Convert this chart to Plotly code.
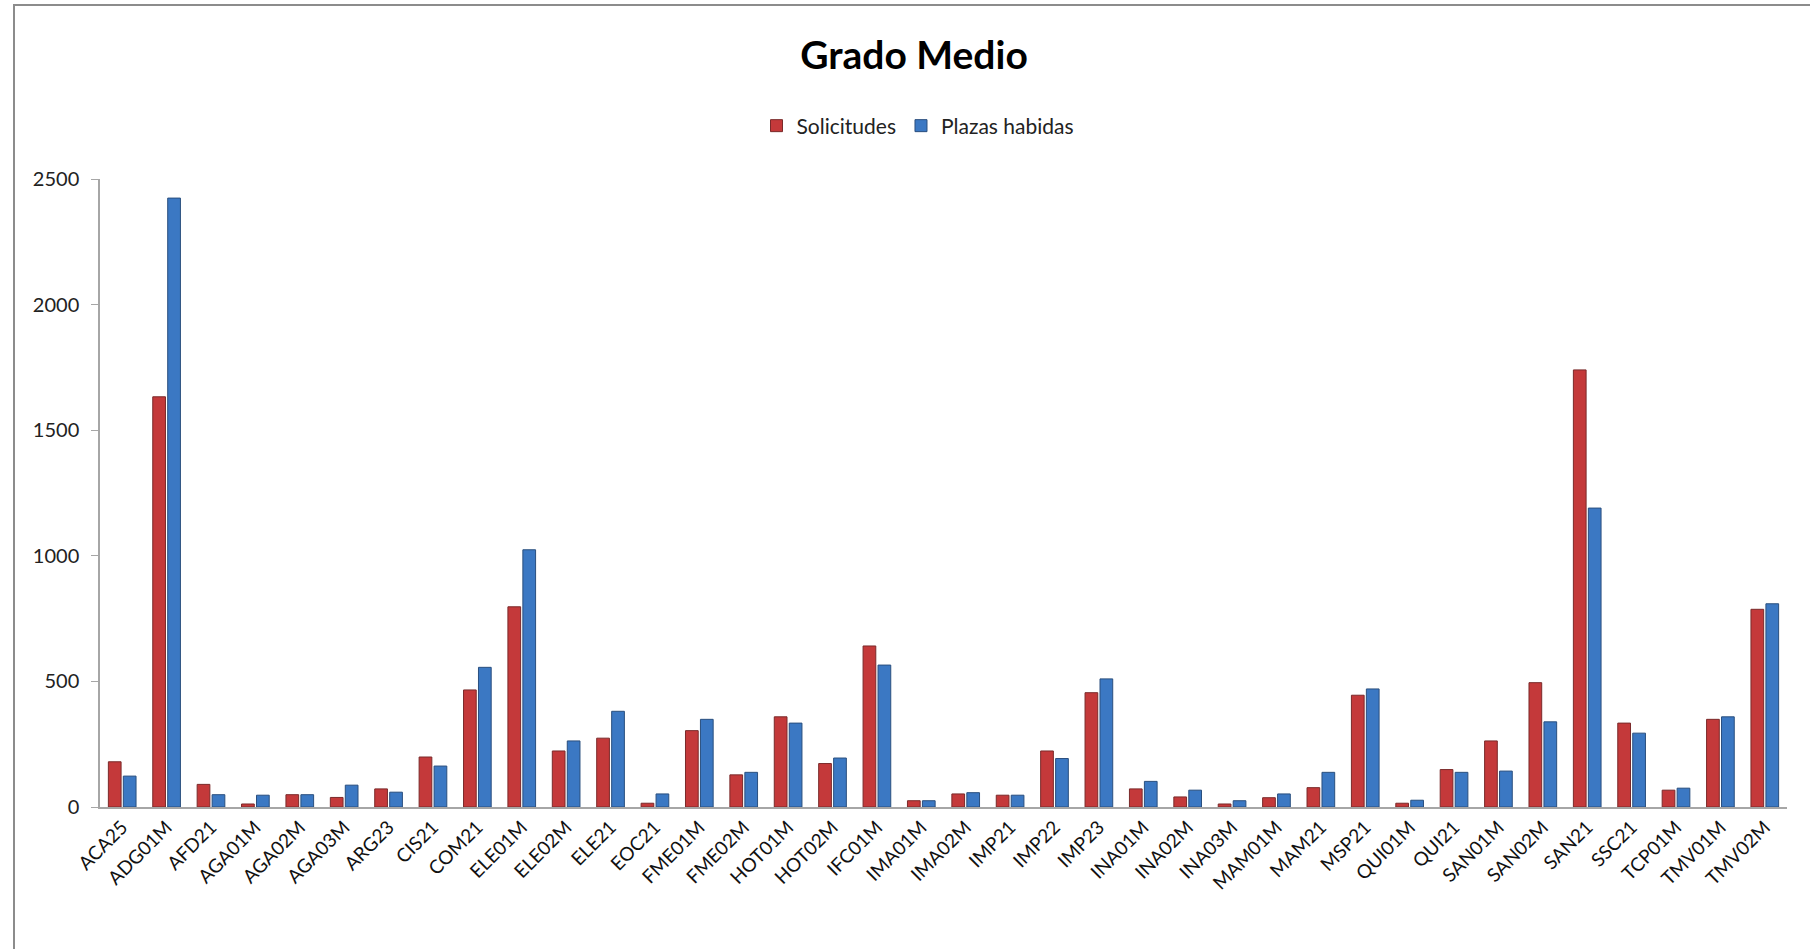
import plotly.graph_objects as go

categories = ["ACA25", "ADG01M", "AFD21", "AGA01M", "AGA02M", "AGA03M", "ARG23", "CIS21",
              "COM21", "ELE01M", "ELE02M", "ELE21", "EOC21", "FME01M", "FME02M", "HOT01M",
              "HOT02M", "IFC01M", "IMA01M", "IMA02M", "IMP21", "IMP22", "IMP23", "INA01M",
              "INA02M", "INA03M", "MAM01M", "MAM21", "MSP21", "QUI01M", "QUI21", "SAN01M",
              "SAN02M", "SAN21", "SSC21", "TCP01M", "TMV01M", "TMV02M"]

solicitudes = [180, 1633, 90, 12, 49, 38, 72, 199, 466, 797, 223, 274, 15, 304, 128, 359,
               173, 641, 25, 52, 47, 223, 455, 72, 40, 12, 37, 77, 445, 15, 149, 263,
               495, 1740, 334, 67, 349, 787]

plazas = [123, 2424, 49, 47, 49, 87, 59, 163, 556, 1024, 263, 381, 52, 349, 138, 334,
          195, 565, 25, 57, 47, 193, 510, 102, 67, 25, 52, 138, 470, 27, 138, 143,
          339, 1190, 294, 75, 359, 809]

y_ticks = [0, 500, 1000, 1500, 2000, 2500]

FONT = "Lato, 'Open Sans', sans-serif"
W, H = 1810, 949
ML, MR, MT, MB = 100, 23, 179, 142
PW, PH = W - ML - MR, H - MT - MB

fig = go.Figure()
fig.add_trace(go.Bar(
    name="Solicitudes", x=categories, y=solicitudes,
    marker=dict(color="#c4393a", line=dict(color="#7a2a2a", width=1)),
))
fig.add_trace(go.Bar(
    name="Plazas habidas", x=categories, y=plazas,
    marker=dict(color="#3b78c3", line=dict(color="#2a4f7e", width=1)),
))

fig.update_layout(
    width=W, height=H,
    paper_bgcolor="white", plot_bgcolor="white",
    margin=dict(l=ML, r=MR, t=MT, b=MB),
    font=dict(family=FONT, color="#222222", size=18),
    title=dict(text="<b>Grado Medio</b>", x=914 / W, xref="container", xanchor="center",
               y=1 - 55 / H, yref="container", yanchor="middle",
               font=dict(family=FONT, size=39, color="#000000")),
    barmode="group", bargap=0.326, bargroupgap=0.15,
    showlegend=True,
    legend=dict(orientation="h", x=918 / W, xref="container", xanchor="center",
                y=1 - 126 / H, yref="container", yanchor="middle",
                font=dict(family=FONT, size=21, color="#222222"),
                itemwidth=30, tracegroupgap=0),
)

fig.update_yaxes(range=[0, 2500], tickvals=y_ticks, showgrid=False, zeroline=False,
                 showline=True, linecolor="#a6a6a6", linewidth=1.5,
                 ticks="outside", ticklen=7, tickcolor="#a6a6a6", ticklabelstandoff=8,
                 tickfont=dict(family=FONT, size=20, color="#222222"))
fig.update_xaxes(tickangle=-45, showgrid=False, showline=True, linecolor="#a6a6a6",
                 linewidth=1.5, ticks="", range=[-0.5, len(categories) - 0.5],
                 tickfont=dict(family=FONT, size=19, color="#111111"))

fig.add_shape(type="rect", xref="paper", yref="paper",
              x0=(14 - ML) / PW, x1=1 + (MR + 30) / PW,
              y0=-(MB + 30) / PH, y1=1 + (MT - 5) / PH,
              line=dict(color="#8c8c8c", width=2), fillcolor="rgba(0,0,0,0)")

fig.write_html("out.html", config={"displayModeBar": False},
               post_script="document.body.style.margin='0';")
